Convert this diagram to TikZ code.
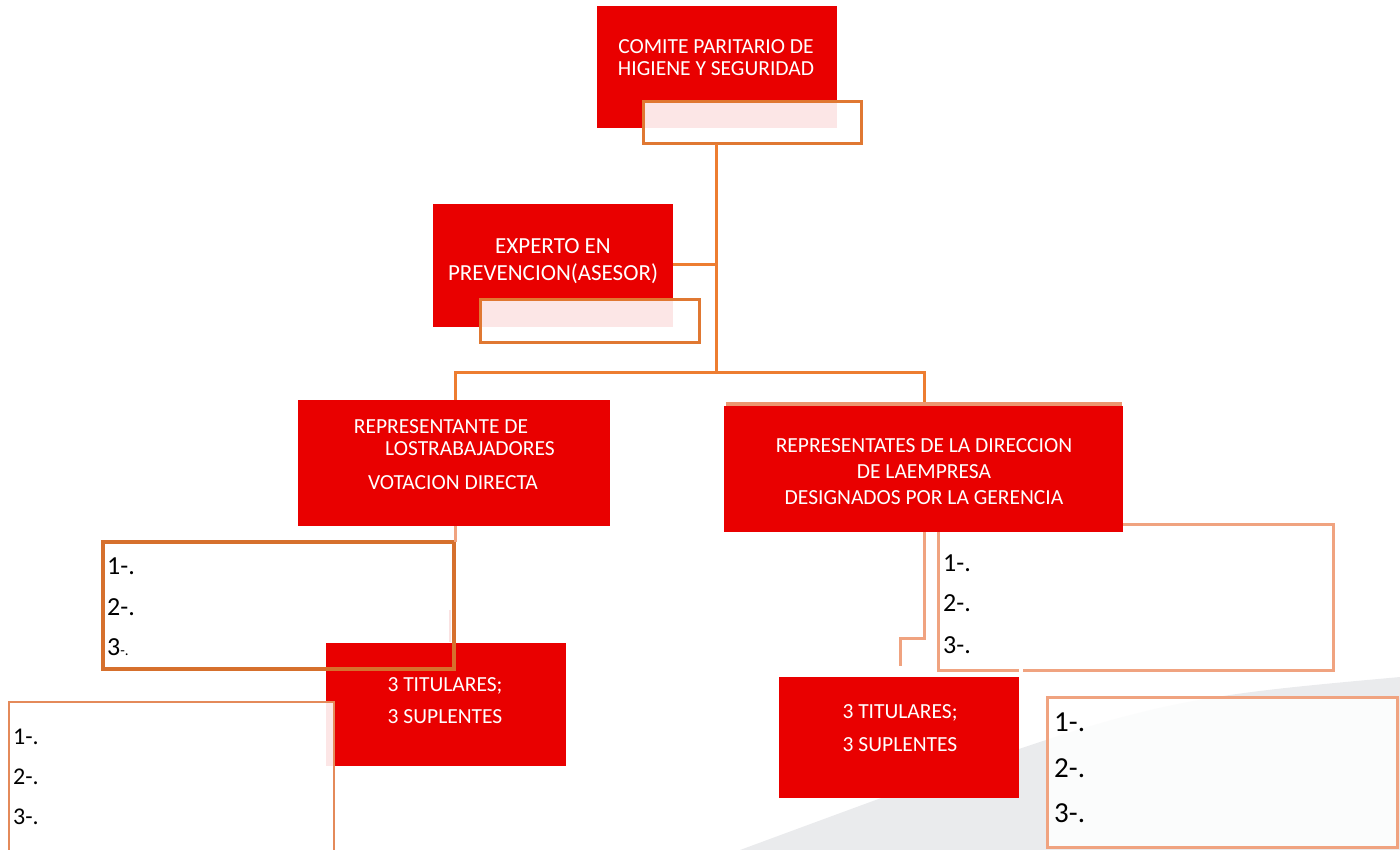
\documentclass[tikz,border=0pt]{standalone}
\usepackage{fontspec}
\setmainfont{Carlito}
\definecolor{cred}{RGB}{233,0,0}
\definecolor{corange}{RGB}{237,125,49}
\definecolor{covl}{RGB}{224,120,50}
\definecolor{cdark}{RGB}{214,112,45}
\definecolor{csalm}{RGB}{240,163,128}
\definecolor{csalmB}{RGB}{228,138,90}
\definecolor{cstrip}{RGB}{236,150,112}
\definecolor{cgray}{RGB}{234,235,237}
\definecolor{cfaint}{RGB}{250,226,226}
\begin{document}
\begin{tikzpicture}[x=1pt,y=-1pt,
  box/.style={anchor=north west, inner sep=0pt, outer sep=0pt},
  redbox/.style={box, fill=cred},
  ovlbox/.style={box, fill=white, fill opacity=0.9, draw=covl, line width=3pt},
  conn/.style={draw=corange, line width=3pt},
  salm/.style={draw=csalm, line width=3pt},
  wtxt/.style={text=white, inner sep=0pt, anchor=center},
  ltxt/.style={text=black, inner sep=0pt, anchor=west},
  fA/.style={font=\fontsize{21.5}{25}\selectfont},
  fB/.style={font=\fontsize{23}{27}\selectfont},
  fL/.style={font=\fontsize{26}{30}\selectfont},
  fM/.style={font=\fontsize{24}{28}\selectfont},
  fN/.style={font=\fontsize{29}{33}\selectfont}]
\path[use as bounding box] (0,0) rectangle (1400,850);
\clip (0,0) rectangle (1400,850);
% background wedge
\fill[cgray] (740,850) .. controls (1146,700) .. (1400,677) -- (1400,850) -- cycle;

% coordinates
\coordinate (j1) at (716,265);
\coordinate (j2) at (716,372);
\coordinate (jl) at (455,372);
\coordinate (jr) at (924,372);
\coordinate (rb1) at (924,638);
\coordinate (rb2) at (900,638);
\coordinate (rb3) at (900,666);
\coordinate (fa) at (450,610);
\coordinate (fb) at (450,642);
\coordinate (gapA) at (1019,670);
\coordinate (gapB) at (1023,670);

% right list box 1 (behind red box)
\node[box, minimum width=395pt, minimum height=146pt] (listR1) at (938,524) {};
\draw[salm] (gapA) -- (listR1.south west) -- (listR1.north west) -- (listR1.north east) -- (listR1.south east) -- (gapB);

% boxes
\node[redbox, minimum width=240pt, minimum height=122pt] (top) at (597,6) {};
\node[redbox, minimum width=240pt, minimum height=123pt] (expert) at (433,204) {};
\node[redbox, minimum width=312pt, minimum height=126pt] (rl) at (298,400) {};
\node[box, fill=cstrip, minimum width=396pt, minimum height=5pt] (rrstrip) at (726,402) {};
\node[redbox, minimum width=399pt, minimum height=126pt] (rr) at (724,406) {};
\node[redbox, minimum width=240pt, minimum height=121pt] (titR) at (779,677) {};
\node[redbox, minimum width=240pt, minimum height=123pt] (titL) at (326,643) {};

\node[ovlbox, minimum width=218pt, minimum height=42pt] (ovtop) at (643,102) {};
\node[ovlbox, minimum width=219pt, minimum height=42pt] (ovexp) at (480,300) {};

% connectors
\draw[conn] (ovtop.south -| j2) -- (j2);
\draw[conn] (expert.east |- j1) -- (j1);
\draw[conn] (jl |- rl.north) -- (jl) -- (jr) -- (jr |- rrstrip.north);
\draw[salm] (rr.south -| rb1) -- (rb1) -- (rb2) -- (rb3);
\draw[draw=cfaint, line width=2pt] (fa) -- (fb);

% left list boxes
\node[box, draw=cdark, line width=4pt, minimum width=351pt, minimum height=127pt] (listL1) at (103,542) {};
\draw[salm] (rl.south -| jl) -- (listL1.north -| jl);
\node[box, fill=white, fill opacity=0.9, draw=csalmB, line width=2.5pt, minimum width=325pt, minimum height=170pt] (listL2) at (9,702) {};
\node[box, fill=white, fill opacity=0.85, draw=csalm, line width=3pt, minimum width=350pt, minimum height=150pt] (listR2) at (1047,697) {};

% texts
\node[wtxt, fA] (t1) at (716,47) {COMITE PARITARIO DE};
\node[wtxt, fA] (t2) at (716,69) {HIGIENE Y SEGURIDAD};
\node[wtxt, fB] (e1) at (553,246) {EXPERTO EN};
\node[wtxt, fB] (e2) at (553,274) {PREVENCION(ASESOR)};
\node[wtxt, fA] (r1) at (441,427) {REPRESENTANTE DE};
\node[wtxt, fA] (r2) at (470,449) {LOSTRABAJADORES};
\node[wtxt, fA] (r3) at (453,483) {VOTACION DIRECTA};
\node[wtxt, fA] (d1) at (924,446) {REPRESENTATES DE LA DIRECCION};
\node[wtxt, fA] (d2) at (924,472) {DE LAEMPRESA};
\node[wtxt, fA] (d3) at (924,498) {DESIGNADOS POR LA GERENCIA};
\node[wtxt, fA] (tl1) at (445,686) {3 TITULARES;};
\node[wtxt, fA] (tl2) at (445,717) {3 SUPLENTES};
\node[wtxt, fA] (tr1) at (900,713) {3 TITULARES;};
\node[wtxt, fA] (tr2) at (900,745) {3 SUPLENTES};

\node[ltxt, fL] (a1) at (107,566) {1-.};
\node[ltxt, fL] (a2) at (107,607) {2-.};
\node[ltxt, fL] (a3) at (107,647) {3{\fontsize{15}{15}\selectfont-.}};
\node[ltxt, fM] (b1) at (13,737) {1-.};
\node[ltxt, fM] (b2) at (13,777) {2-.};
\node[ltxt, fM] (b3) at (13,817) {3-.};
\node[ltxt, fL] (c1) at (943,563) {1-.};
\node[ltxt, fL] (c2) at (943,603) {2-.};
\node[ltxt, fL] (c3) at (943,645) {3-.};
\node[ltxt, fN] (g1) at (1054,722) {1-.};
\node[ltxt, fN] (g2) at (1054,768) {2-.};
\node[ltxt, fN] (g3) at (1054,813) {3-.};
\end{tikzpicture}
\end{document}
